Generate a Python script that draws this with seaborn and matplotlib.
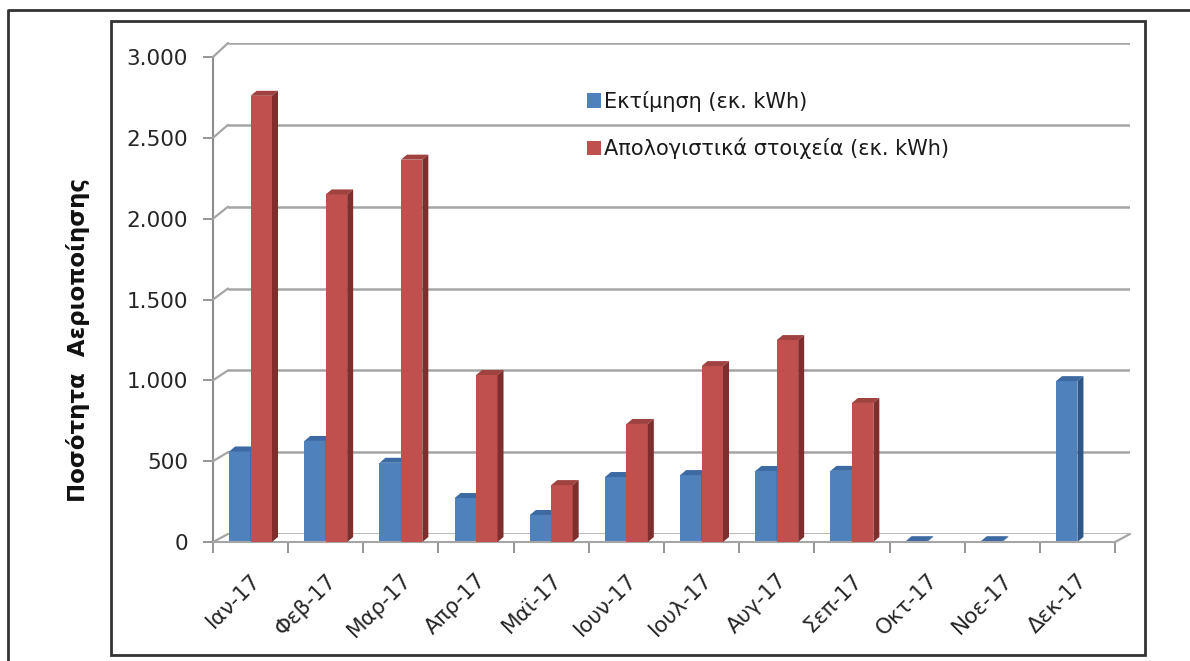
import numpy as np
import pandas as pd
import matplotlib
matplotlib.use("Agg")
import matplotlib.pyplot as plt
import matplotlib.transforms as mtransforms
from matplotlib.patches import Polygon, Patch, Rectangle
from matplotlib.lines import Line2D
from matplotlib.ticker import FuncFormatter, FixedLocator
import seaborn as sns

# ---------------- data ----------------
months = ["Ιαν-17", "Φεβ-17", "Μαρ-17", "Απρ-17", "Μαϊ-17", "Ιουν-17",
          "Ιουλ-17", "Αυγ-17", "Σεπ-17", "Οκτ-17", "Νοε-17", "Δεκ-17"]
series_names = ["Εκτίμηση (εκ. kWh)", "Απολογιστικά στοιχεία (εκ. kWh)"]
estimate = [560, 625, 490, 272, 167, 402, 414, 439, 440, 5, 5, 995]
actual = [2760, 2150, 2365, 1033, 352, 730, 1088, 1249, 860, np.nan, np.nan, np.nan]
y_ticks = [0, 500, 1000, 1500, 2000, 2500, 3000]
y_label = "Ποσότητα  Αεριοποίησης"

front_colors = ["#4F81BD", "#C0504D"]
top_colors = ["#3D6AA3", "#A04340"]
side_colors = ["#2F5688", "#7E2F2D"]

df = pd.DataFrame({
    "month": months * 2,
    "series": [series_names[0]] * len(months) + [series_names[1]] * len(months),
    "value": list(estimate) + list(actual),
})

# ---------------- figure ----------------
sns.set_theme(style="white")
plt.rcParams["font.family"] = ["DejaVu Sans"]
W, H = 1190, 661
fig = plt.figure(figsize=(W / 100, H / 100), dpi=100)
fig.patch.set_facecolor("white")

def fx(px):
    return px / W

def fy(py):
    return 1 - py / H

# back wall axes
ax_back = fig.add_axes([fx(228), fy(534), fx(1130) - fx(228), fy(43) - fy(534)])
ax_back.set_xlim(-0.5, len(months) - 0.5)
ax_back.set_ylim(0, 3000)
ax_back.axis("off")
ax_back.set_zorder(0)

# front axes
ax = fig.add_axes([fx(213), fy(542), fx(1115) - fx(213), fy(57) - fy(542)])
ax.set_zorder(1)
ax.patch.set_alpha(0)

grid_col = "#A5A5A5"
for v in y_ticks:
    ax_back.axhline(v, color=grid_col, lw=1.8, zorder=0)

sns.barplot(data=df, x="month", y="value", hue="series", hue_order=series_names,
            palette=front_colors, width=0.57, gap=0, saturation=1,
            legend=False, ax=ax, edgecolor="none")

ax.set_xlim(-0.5, len(months) - 0.5)
ax.set_ylim(0, 3000)
ax.set_xlabel("")
ax.set_ylabel("")

# spines
for s in ["top", "right"]:
    ax.spines[s].set_visible(False)
ax.spines["left"].set_color("#8C8C8C")
ax.spines["left"].set_linewidth(1.5)
ax.spines["bottom"].set_color("#A5A5A5")
ax.spines["bottom"].set_linewidth(1.5)

ax.set_yticks(y_ticks)
ax.yaxis.set_major_formatter(FuncFormatter(lambda v, p: f"{int(v):,}".replace(",", ".")))
ax.tick_params(axis="y", which="major", length=7, width=1.3, color="#8C8C8C",
               direction="out", pad=11, labelsize=15.5, labelcolor="#262626", left=True)

ax.set_xticks(range(len(months)))
ax.set_xticklabels(months, rotation=45, ha="right", rotation_mode="anchor")
ax.tick_params(axis="x", which="major", length=0, pad=20, labelsize=15.5,
               labelcolor="#262626")
ax.xaxis.set_minor_locator(FixedLocator(np.arange(-0.5, len(months), 1.0)))
ax.tick_params(axis="x", which="minor", length=8, width=1.3, color="#8C8C8C",
               direction="out", bottom=True)

fig.text(fx(78), (fy(175) + fy(505)) / 2, y_label, rotation=90, ha="center",
         va="center", fontsize=16.5, fontweight="bold", color="#111111")

# ----- 3D faces on bars -----
fig.canvas.draw()
ident = mtransforms.IdentityTransform()
dxp, dyp = 6, 5
patches = [p for p in ax.patches if isinstance(p, Rectangle)]
n = len(months)
for i, p in enumerate(patches):
    h = p.get_height()
    if not np.isfinite(h):
        continue
    k = 0 if i < n else 1
    x0, y0 = p.get_x(), p.get_y()
    x1, y1 = x0 + p.get_width(), y0 + h
    (X0, Y0) = ax.transData.transform((x0, y0))
    (X1, Y1) = ax.transData.transform((x1, y1))
    zo = 2 + k
    p.set_zorder(zo)
    top = Polygon([(X0, Y1), (X1, Y1), (X1 + dxp, Y1 + dyp), (X0 + dxp, Y1 + dyp)],
                  closed=True, transform=ident, facecolor=top_colors[k],
                  edgecolor="none", zorder=zo + 0.1, clip_on=False)
    side = Polygon([(X1, Y0), (X1, Y1), (X1 + dxp, Y1 + dyp), (X1 + dxp, Y0 + dyp)],
                   closed=True, transform=ident, facecolor=side_colors[k],
                   edgecolor="none", zorder=zo + 0.1, clip_on=False)
    ax.add_artist(top)
    ax.add_artist(side)

# connectors between front axis and back wall
for v in y_ticks:
    a = ax.transData.transform((-0.5, v))
    b = ax_back.transData.transform((-0.5, v))
    fig.add_artist(Line2D([a[0], b[0]], [a[1], b[1]], transform=ident,
                          color=grid_col, lw=1.6))
a = ax.transData.transform((len(months) - 0.5, 0))
b = ax_back.transData.transform((len(months) - 0.5, 0))
fig.add_artist(Line2D([a[0], b[0]], [a[1], b[1]], transform=ident,
                      color=grid_col, lw=1.6))

# legend
handles = [Patch(facecolor=c, edgecolor="none") for c in front_colors]
fig.legend(handles, series_names, loc="upper left",
           bbox_to_anchor=(fx(568), fy(72)), frameon=False, fontsize=15,
           handlelength=0.7, handleheight=0.7, handletextpad=0.15,
           labelspacing=1.25, labelcolor="#1a1a1a")

# frames
fig.add_artist(Line2D([fx(8), fx(8), fx(1190)], [fy(661), fy(10), fy(10)],
                      transform=fig.transFigure, color="#333333", lw=2))
fig.add_artist(Rectangle((fx(111), fy(655)), fx(1145) - fx(111), fy(21) - fy(655),
                         transform=fig.transFigure, facecolor="none",
                         edgecolor="#333333", lw=2))

fig.savefig("out.png", dpi=100, facecolor="white")
